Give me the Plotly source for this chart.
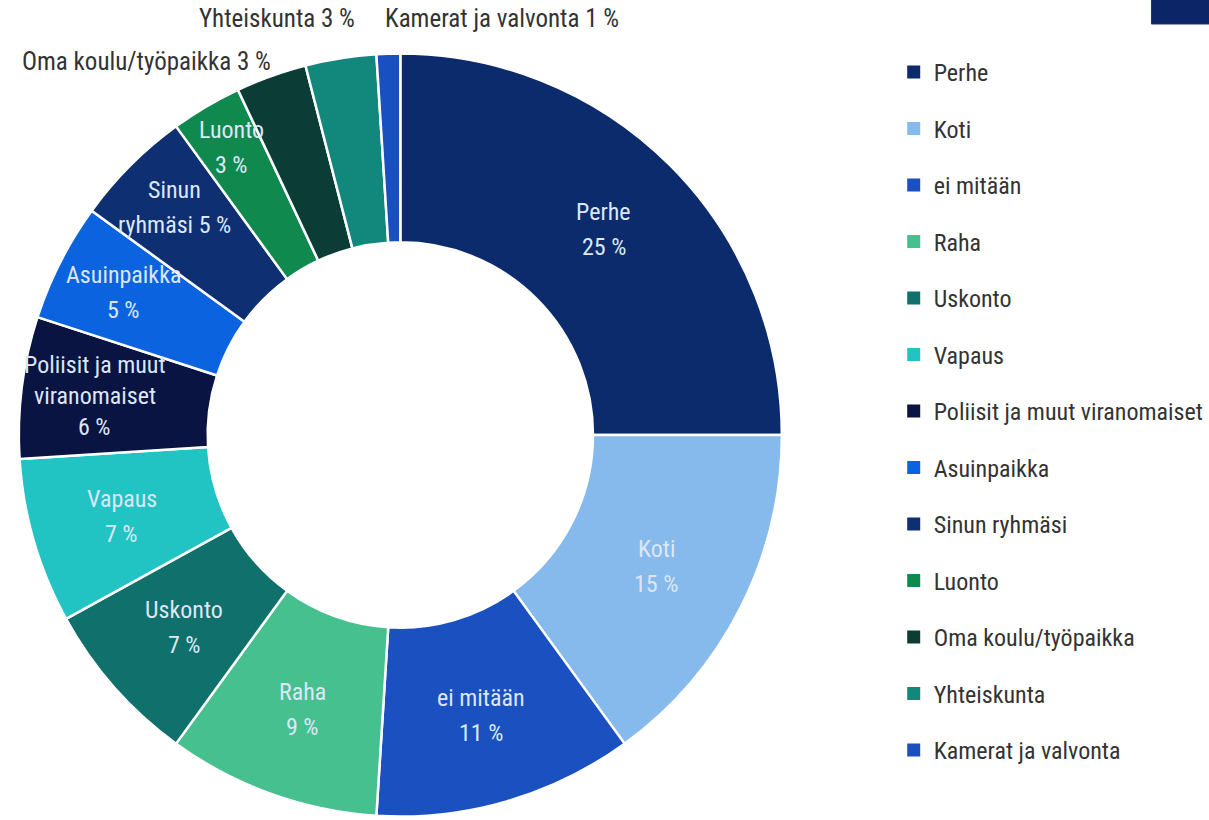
import numpy as np
import plotly.graph_objects as go

# data
labels = ["Perhe", "Koti", "ei mitään", "Raha", "Uskonto", "Vapaus",
          "Poliisit ja muut viranomaiset", "Asuinpaikka", "Sinun ryhmäsi",
          "Luonto", "Oma koulu/työpaikka", "Yhteiskunta", "Kamerat ja valvonta"]
values = [25, 15, 11, 9, 7, 7, 6, 5, 5, 3, 3, 3, 1]
# how the label of each slice is split into lines (None = label outside the ring)
label_lines = [["Perhe"], ["Koti"], ["ei mitään"], ["Raha"], ["Uskonto"], ["Vapaus"],
               ["Poliisit ja muut", "viranomaiset"], ["Asuinpaikka"], ["Sinun", "ryhmäsi"],
               ["Luonto"], None, None, None]

colors = ["#0c2b6c", "#86b9ec", "#1a50bf", "#46c08f", "#10706b", "#22c3c3",
          "#0a1442", "#0b63df", "#0e2f72", "#10894f", "#0b3c36", "#12877b", "#1a4fbf"]
# radial position of the inside labels (px from centre), line gap
label_r = [290, 290, 292, 292, 291, 293, 311, 313, 322, 334]
LINE_GAP = 35

FONT = "Roboto Condensed, DejaVu Sans Condensed, sans-serif"
W, H = 1209, 820
CX, CY, R = 404, 435, 385  # pie centre and radius in px

fig = go.Figure()

fig.add_trace(go.Pie(
    labels=labels, values=values, textinfo="none",
    hole=0.505, sort=False, direction="clockwise", rotation=0,
    marker=dict(colors=colors, line=dict(color="white", width=2.5)),
    domain=dict(x=[(CX - R) / W, (CX + R) / W], y=[1 - (CY + R) / H, 1 - (CY - R) / H]),
    showlegend=False, hoverinfo="label+value",
))

# inside labels placed at the middle angle of each slice
total = sum(values)
cum = np.cumsum([0] + values[:-1])
for i, lines in enumerate(label_lines):
    if lines is None:
        continue
    mid = 2 * np.pi * (cum[i] + values[i] / 2) / total
    px = CX + label_r[i] * np.sin(mid)
    py = CY - label_r[i] * np.cos(mid)
    pct = f"{values[i]} %"
    if lines == ["Sinun", "ryhmäsi"]:
        rows = ["Sinun", "ryhmäsi " + pct]
    else:
        rows = lines + [pct]
    gap = LINE_GAP if len(rows) == 2 else 31
    for k, row in enumerate(rows):
        yy = py + (k - (len(rows) - 1) / 2) * gap
        fig.add_annotation(text=row, x=px / W, y=1 - yy / H, xref="paper", yref="paper",
                           xanchor="center", yanchor="middle", showarrow=False,
                           font=dict(family=FONT, size=24, color="#dce7f7"))

# legend entries
for lab, col in zip(labels, colors):
    fig.add_trace(go.Scatter(
        x=[None], y=[None], mode="markers", name=lab, legendgroup=lab,
        marker=dict(symbol="square", size=13, color=col),
    ))

# outside labels for the smallest slices
outside = [("Yhteiskunta 3 %", 280, 18), ("Kamerat ja valvonta 1 %", 507, 18),
           ("Oma koulu/työpaikka 3 %", 148, 62)]
for txt, ax, ay in outside:
    fig.add_annotation(text=txt, x=ax / W, y=1 - ay / H, xref="paper", yref="paper",
                       xanchor="center", yanchor="middle", showarrow=False,
                       font=dict(family=FONT, size=25, color="#333333"))

# cropped badge in the top right corner
fig.add_shape(type="rect", xref="paper", yref="paper", x0=1162 / W, x1=1.05, y0=1 - 24 / H, y1=1.05,
              fillcolor="#0b2566", line=dict(color="#1a3470", width=1))

fig.update_layout(
    width=W, height=H,
    margin=dict(l=0, r=0, t=0, b=0),
    paper_bgcolor="white", plot_bgcolor="white",
    xaxis=dict(visible=False), yaxis=dict(visible=False),
    legend=dict(x=0.746, y=0.939, xanchor="left", yanchor="top",
                tracegroupgap=22.3, traceorder="grouped",
                font=dict(family=FONT, size=24, color="#333333")),
)

fig.write_html("out.html", config={"displayModeBar": False},
               post_script="document.body.style.margin = '0'; document.body.style.overflow = 'hidden';")
